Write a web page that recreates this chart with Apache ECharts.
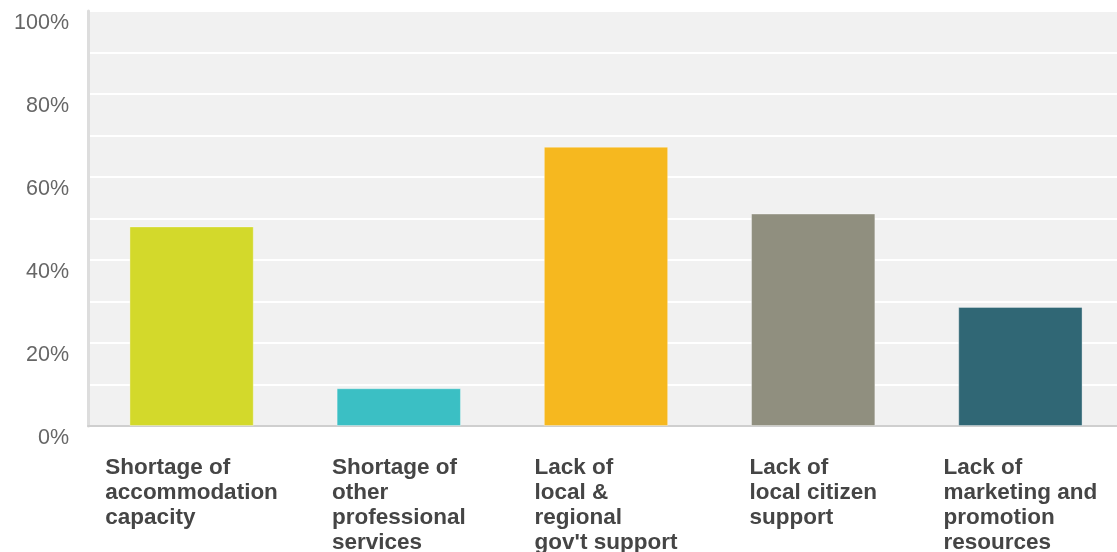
<!DOCTYPE html>
<html>
<head>
<meta charset="utf-8">
<script src="https://cdn.jsdelivr.net/npm/echarts@6/dist/echarts.min.js"></script>
<style>
html,body{margin:0;padding:0;background:#fff;}
#chart{width:1117px;height:552px;}
</style>
</head>
<body>
<div id="chart"></div>
<script>
const categories = [
  "Shortage of\naccommodation\ncapacity",
  "Shortage of\nother\nprofessional\nservices",
  "Lack of\nlocal &\nregional\ngov't support",
  "Lack of\nlocal citizen\nsupport",
  "Lack of\nmarketing and\npromotion\nresources"
];
const values = [48.1, 9.1, 67.3, 51.2, 28.7];
const barColors = ["#d3d92b", "#3bbfc4", "#f6b81f", "#908f7f", "#306775"];
const yMin = 0, yMax = 100, yStep = 20;

const chart = echarts.init(document.getElementById('chart'));
chart.setOption({
  animation: false,
  grid: {
    left: 88, width: 1036, top: 11, height: 415,
    outerBoundsMode: 'none',
    containLabel: false,
    show: true, backgroundColor: '#f1f1f1', borderWidth: 0
  },
  xAxis: {
    type: 'category',
    data: categories,
    axisLine: { show: true, lineStyle: { color: '#cfcfcf', width: 2 } },
    axisTick: { show: false },
    axisLabel: {
      interval: 0,
      margin: 29,
      align: 'center',
      verticalAlign: 'top',
      formatter: function (v) { return '{a|' + v.split('\n').join('}\n{a|') + '}'; },
      rich: {
        a: {
          align: 'left',
          fontFamily: 'Liberation Sans, Arial, sans-serif',
          fontWeight: 'bold',
          fontSize: 22.5,
          lineHeight: 25,
          color: '#454545'
        }
      }
    }
  },
  yAxis: {
    type: 'value',
    min: yMin, max: yMax, interval: yStep,
    axisLine: { show: true, lineStyle: { color: '#dddddd', width: 3 } },
    axisTick: { show: false },
    splitLine: { show: true, lineStyle: { color: '#ffffff', width: 2 } },
    minorTick: { show: false, splitNumber: 2 },
    minorSplitLine: { show: true, lineStyle: { color: '#ffffff', width: 2 } },
    axisLabel: {
      margin: 19,
      verticalAlign: 'top',
      padding: [1, 0, 0, 0],
      formatter: '{value}%',
      fontFamily: 'Liberation Sans, Arial, sans-serif',
      fontSize: 21.5,
      color: '#666666'
    }
  },
  series: [{
    type: 'bar',
    barWidth: '60%',
    data: values.map((v, i) => ({ value: v, itemStyle: { color: barColors[i] } })),
    itemStyle: { borderColor: 'rgba(255,255,255,0.35)', borderWidth: 1 }
  }]
});
</script>
</body>
</html>
